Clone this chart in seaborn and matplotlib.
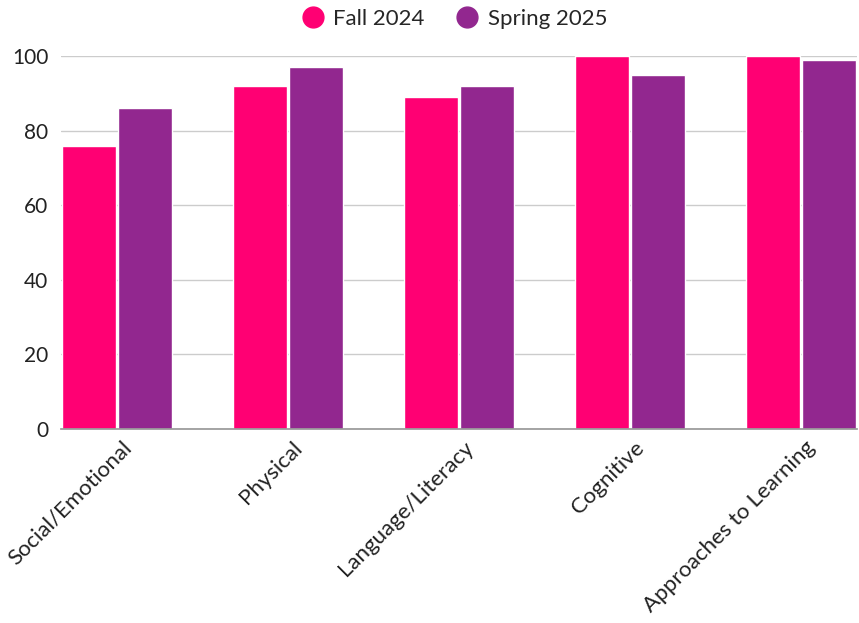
import pandas as pd
import matplotlib.pyplot as plt
import matplotlib.transforms as mtransforms
import seaborn as sns

# data
categories = ['Social/Emotional', 'Physical', 'Language/Literacy', 'Cognitive', 'Approaches to Learning']
fall_2024 = [76, 92, 89, 100, 100]
spring_2025 = [86, 97, 92, 95, 99]
series_names = ['Fall 2024', 'Spring 2025']

df = pd.DataFrame({
    'domain': categories * 2,
    'value': fall_2024 + spring_2025,
    'term': [series_names[0]] * 5 + [series_names[1]] * 5,
})

sns.set_theme(style='white')
plt.rcParams['font.family'] = ['Lato', 'DejaVu Sans']

fig = plt.figure(figsize=(8.59, 6.23), dpi=100)
ax = fig.add_axes([0.0710, 0.3114, 0.9267, 0.5987])

palette = {'Fall 2024': '#FF0073', 'Spring 2025': '#92278F'}
sns.barplot(data=df, x='domain', y='value', hue='term', palette=palette,
            width=0.657, gap=0.04, saturation=1, ax=ax, legend=False)

ax.set_ylim(0, 100)
ax.set_xlim(-0.328, 4.328)
ax.set_yticks([0, 20, 40, 60, 80, 100])
ax.grid(True, axis='y', color='#cccccc', linewidth=1)
ax.set_axisbelow(True)
for s in ['top', 'right', 'left']:
    ax.spines[s].set_visible(False)
ax.spines['bottom'].set_color('#999999')
ax.set_xlabel('')
ax.set_ylabel('')
ax.tick_params(axis='both', length=0, colors='#222222')
ax.tick_params(axis='y', pad=9, labelsize=15)
ax.tick_params(axis='x', pad=9, labelsize=16)

# rotated labels, nudged right like the reference
offset = mtransforms.ScaledTranslation(0.11, -0.03, fig.dpi_scale_trans)
for lbl in ax.get_xticklabels():
    lbl.set_rotation(45)
    lbl.set_ha('right')
    lbl.set_va('center')
    lbl.set_rotation_mode('anchor')
    lbl.set_transform(lbl.get_transform() + offset)

# legend with round markers
handles = [plt.Line2D([], [], marker='o', linestyle='', markersize=15,
                      color=palette[n]) for n in series_names]
fig.legend(handles, series_names, loc='upper center', bbox_to_anchor=(0.529, 1.018),
           ncol=2, frameon=False, fontsize=16, handlelength=1.0,
           handletextpad=0.44, columnspacing=1.4)

fig.savefig('out.png', dpi=100)
